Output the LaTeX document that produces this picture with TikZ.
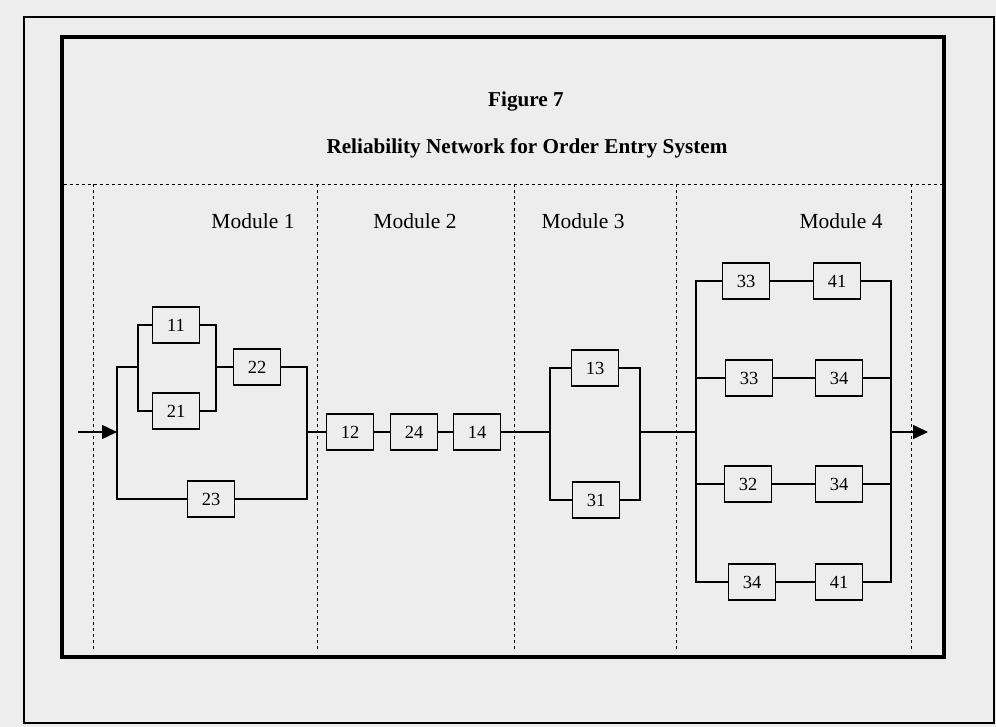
\documentclass[tikz,border=0pt]{standalone}
\usepackage{fontspec}
\setmainfont{Liberation Serif}
\usetikzlibrary{arrows.meta}

\begin{document}
\begin{tikzpicture}[x=1pt,y=-1pt,
	blk/.style={draw,line width=1.5pt,fill=black!7,minimum width=47pt,minimum height=36pt,inner sep=0pt,font=\fontsize{18.5}{20}\selectfont},
	wire/.style={line width=1.5pt},
	arr/.style={line width=1.5pt,-{Triangle[length=15pt,width=14pt]}},
	sep/.style={line width=0.8pt,dash pattern=on 3pt off 3pt},
	modlbl/.style={font=\fontsize{21.5}{25}\selectfont},
	ttl/.style={font=\fontsize{21.2}{25}\selectfont\bfseries}]

	\fill[black!7] (0,0) rectangle (996,727);
	\useasboundingbox (0,0) rectangle (996,727);

	% frames
	\draw[line width=2pt] (24,17) rectangle (994,723);
	\draw[line width=4pt] (62,37) rectangle (944,657);

	\node[ttl] (fig) at (526,101) {Figure 7};
	\node[ttl] (title) at (527,148) {Reliability Network for Order Entry System};

	% module columns
	\draw[sep] (64,184) -- (942,184);
	\draw[sep] (93,184) -- (93,652);
	\draw[sep] (317,184) -- (317,652);
	\draw[sep] (514,184) -- (514,652);
	\draw[sep] (676,184) -- (676,652);
	\draw[sep] (911,184) -- (911,652);

	\node[modlbl] (m1) at (253,221) {Module 1};
	\node[modlbl] (m2) at (415,221) {Module 2};
	\node[modlbl] (m3) at (583,221) {Module 3};
	\node[modlbl] (m4) at (841,221) {Module 4};

	% module 1
	\coordinate (in) at (78,432);
	\coordinate (ja) at (117,432);
	\coordinate (jb) at (117,367);
	\coordinate (jc) at (138,367);
	\coordinate (jd) at (216,367);
	\coordinate (je) at (307,432);

	\node[blk] (b11) at (176,325) {11};
	\node[blk] (b21) at (176,411) {21};
	\node[blk] (b22) at (257,367) {22};
	\node[blk] (b23) at (211,499) {23};

	\draw[wire] (jc) |- (b11.west);
	\draw[wire] (jc) |- (b21.west);
	\draw[wire] (b11.east) -| (jd);
	\draw[wire] (b21.east) -| (jd);
	\draw[wire] (jd) -- (b22.west);
	\draw[wire] (b22.east) -| (je) |- (b23.east);
	\draw[wire] (jc) -- (jb) |- (b23.west);
	\draw[arr] (in) -- (ja);

	% module 2
	\node[blk] (b12) at (350,432) {12};
	\node[blk] (b24) at (414,432) {24};
	\node[blk] (b14) at (477,432) {14};

	\draw[wire] (je) -- (b12);
	\draw[wire] (b12) -- (b24);
	\draw[wire] (b24) -- (b14);

	% module 3
	\coordinate (ka) at (550,432);
	\coordinate (kb) at (640,432);

	\node[blk] (b13) at (595,368) {13};
	\node[blk] (b31) at (596,500) {31};

	\draw[wire] (b14) -- (ka);
	\draw[wire] (ka) |- (b13.west);
	\draw[wire] (ka) |- (b31.west);
	\draw[wire] (b13.east) -| (kb);
	\draw[wire] (b31.east) -| (kb);

	% module 4
	\coordinate (ma) at (696,432);
	\coordinate (mb) at (891,432);
	\coordinate (out) at (928,432);

	\node[blk] (b33a) at (746,281) {33};
	\node[blk] (b41a) at (837,281) {41};
	\node[blk] (b33b) at (749,378) {33};
	\node[blk] (b34a) at (839,378) {34};
	\node[blk] (b32) at (748,484) {32};
	\node[blk] (b34b) at (839,484) {34};
	\node[blk] (b34c) at (752,582) {34};
	\node[blk] (b41b) at (839,582) {41};

	\draw[wire] (kb) -- (ma);
	\draw[wire] (ma) |- (b33a.west);
	\draw[wire] (ma) |- (b33b.west);
	\draw[wire] (ma) |- (b32.west);
	\draw[wire] (ma) |- (b34c.west);
	\draw[wire] (b33a) -- (b41a);
	\draw[wire] (b33b) -- (b34a);
	\draw[wire] (b32) -- (b34b);
	\draw[wire] (b34c) -- (b41b);
	\draw[wire] (b41a.east) -| (mb);
	\draw[wire] (b34a.east) -| (mb);
	\draw[wire] (b34b.east) -| (mb);
	\draw[wire] (b41b.east) -| (mb);
	\draw[arr] (mb) -- (out);

\end{tikzpicture}
\end{document}
